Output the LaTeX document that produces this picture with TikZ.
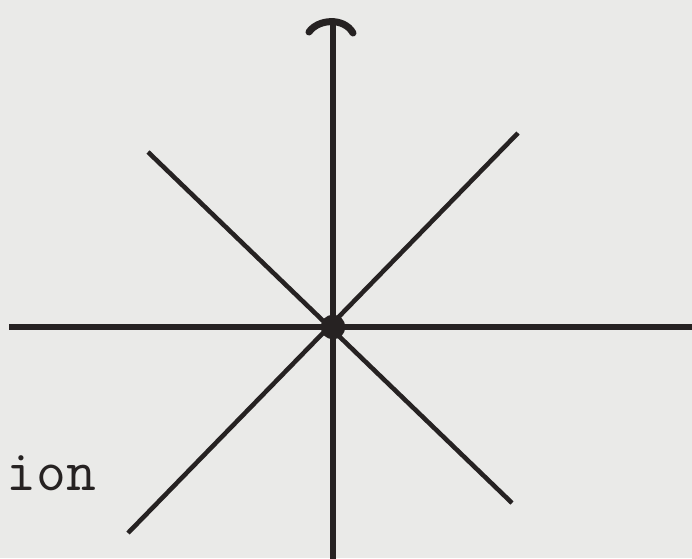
\documentclass[tikz,border=0pt]{standalone}
\usetikzlibrary{arrows.meta}
\definecolor{InkGray}{RGB}{38,34,34}
\definecolor{PaperGray}{RGB}{234,234,232}

\begin{document}
\begin{tikzpicture}[x=0.02cm,y=-0.02cm,>=Latex,
    axisline/.style={line width=3pt,InkGray},
    rayline/.style={line width=2.6pt,InkGray}]
      \fill[PaperGray] (0,0) rectangle (692,558);
      \useasboundingbox (0,0) rectangle (692,558);
      \node[circle,fill=InkGray,inner sep=0pt,minimum size=14] (o) at (333,327) {};
      \coordinate (up) at (333,21);
      \coordinate (down) at (333,560);
      \coordinate (left) at (9,327);
      \coordinate (right) at (694,327);
      \coordinate (ne) at (518,133);
      \coordinate (sw) at (128,533);
      \coordinate (nw) at (148,152);
      \coordinate (se) at (512,503);
      \draw[axisline] (o.center)--(up);
      % curved cap of the upward arrow
      \draw[InkGray,line width=4pt,line cap=round] (309,32) .. controls (318,19) and (344,17) .. (353,33);
      \draw[axisline] (o.center)--(down);
      \draw[axisline] (left)--(right);
      \draw[rayline] (ne)--(sw);
      \draw[rayline] (nw)--(se);
      \node[anchor=base west,inner sep=0pt,text=InkGray,font=\ttfamily\fontsize{33}{40}\selectfont] (lbl) at (6,490) {ion};
    \end{tikzpicture}
\end{document}
